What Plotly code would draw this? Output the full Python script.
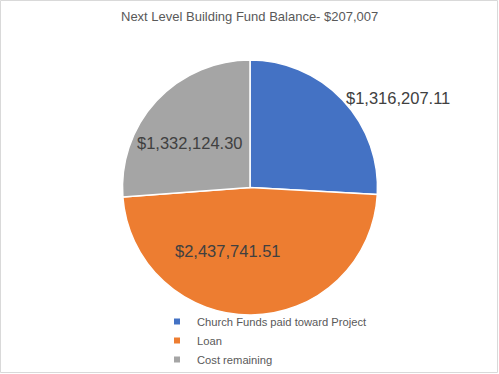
import plotly.graph_objects as go

categories = ["Church Funds paid toward Project", "Loan", "Cost remaining"]
values = [1316207.11, 2437741.51, 1332124.30]
colors = ["#4472C4", "#ED7D31", "#A5A5A5"]
title_text = "Next Level Building Fund Balance- $207,007"

W, H = 499, 374
FONT = "Liberation Sans, Arial, sans-serif"
# label anchor positions (paper fraction)
label_pos = [(0.797, 0.738), (0.457, 0.330), (0.381, 0.618)]

fig = go.Figure()
fig.add_trace(go.Pie(
    labels=categories,
    values=values,
    sort=False,
    direction="clockwise",
    rotation=0,
    marker=dict(colors=colors, line=dict(color="white", width=1.5)),
    textinfo="none",
    hoverinfo="label+value",
    showlegend=False,
    domain=dict(x=[122 / W, 378 / W], y=[1 - 315 / H, 1 - 60 / H]),
))

# legend entries with small square markers
for cat, c in zip(categories, colors):
    fig.add_trace(go.Scatter(
        x=[None], y=[None], mode="markers", name=cat,
        marker=dict(symbol="square", size=6, color=c),
        showlegend=True, hoverinfo="skip",
    ))

annotations = []
for v, (ax, ay) in zip(values, label_pos):
    annotations.append(dict(
        text=f"${v:,.2f}", x=ax, y=ay, xref="paper", yref="paper",
        showarrow=False, xanchor="center", yanchor="middle",
        font=dict(family=FONT, size=16.5, color="#404040"),
    ))
annotations.append(dict(
    text=title_text, x=0.5, y=1 - 17 / H, xref="paper", yref="paper",
    showarrow=False, xanchor="center", yanchor="middle",
    font=dict(family=FONT, size=13, color="#595959"),
))

fig.update_layout(
    width=W, height=H,
    margin=dict(l=0, r=0, t=0, b=0),
    paper_bgcolor="white",
    plot_bgcolor="white",
    showlegend=True,
    xaxis=dict(visible=False),
    yaxis=dict(visible=False),
    legend=dict(
        x=157 / W, y=1 - 307 / H, xanchor="left", yanchor="top",
        orientation="v",
        font=dict(family=FONT, size=11.2, color="#595959"),
        bgcolor="rgba(0,0,0,0)",
        itemwidth=30,
        tracegroupgap=0,
    ),
    annotations=annotations,
    shapes=[dict(type="rect", xref="paper", yref="paper",
                 x0=0.5 / W, y0=1.5 / H, x1=1 - 1.5 / W, y1=1 - 0.5 / H,
                 line=dict(color="#D9D9D9", width=1), fillcolor="rgba(0,0,0,0)")],
)

fig.write_html("out.html")
